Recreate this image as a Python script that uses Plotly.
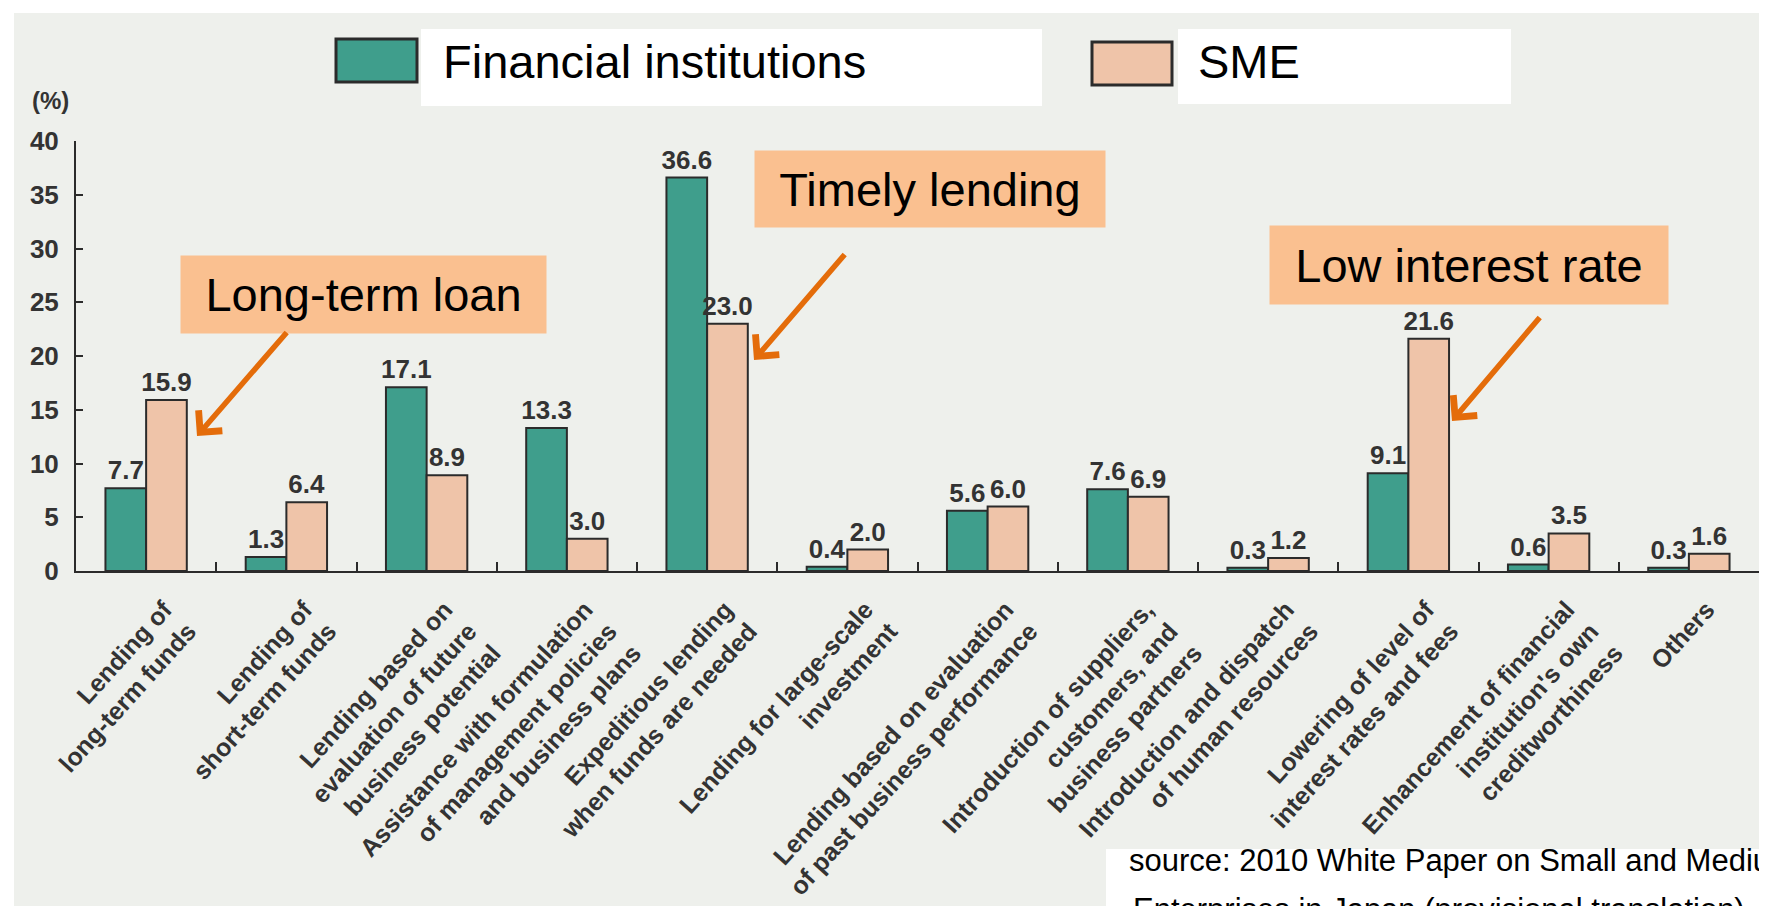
import plotly.graph_objects as go

# values (2010 White Paper on SMEs in Japan)
categories = [
    "Lending of<br>long-term funds",
    "Lending of<br>short-term funds",
    "Lending based on<br>evaluation of future<br>business potential",
    "Assistance with formulation<br>of management policies<br>and business plans",
    "Expeditious lending<br>when funds are needed",
    "Lending for large-scale<br>investment",
    "Lending based on evaluation<br>of past business performance",
    "Introduction of suppliers,<br>customers, and<br>business partners",
    "Introduction and dispatch<br>of human resources",
    "Lowering of level of<br>interest rates and fees",
    "Enhancement of financial<br>institution's own<br>creditworthiness",
    "Others",
]
fin_inst = [7.7, 1.3, 17.1, 13.3, 36.6, 0.4, 5.6, 7.6, 0.3, 9.1, 0.6, 0.3]
sme = [15.9, 6.4, 8.9, 3.0, 23.0, 2.0, 6.0, 6.9, 1.2, 21.6, 3.5, 1.6]
series_names = ["Financial institutions", "SME"]
y_ticks = [0, 5, 10, 15, 20, 25, 30, 35, 40]
callout_texts = ["Long-term loan", "Timely lending", "Low interest rate"]
source_lines = [
    "source: 2010 White Paper on Small and Medium",
    "Enterprises in Japan (provisional translation)",
]

TEAL = "#3f9e8c"
PINK = "#efc4a9"
ORANGE_BOX = "#fac090"
ORANGE_LINE = "#e46c0a"
BG = "#eef0ec"
INK = "#333333"
EDGE = "#2b2b2b"
FONT = "Liberation Sans, Arial, sans-serif"

# page size and plot area (pixels)
W, H = 1767, 906
L, R, T, B = 68, 1751, 133, 563


def px(x):
    return (x - L) / (R - L)


def py(y):
    return (B - y) / (B - T)


fig = go.Figure()
for name, vals, color in zip(series_names, [fin_inst, sme], [TEAL, PINK]):
    fig.add_trace(go.Bar(
        x=categories, y=vals, name=name,
        marker=dict(color=color, line=dict(color=EDGE, width=2)),
        text=[f"{v:.1f}" for v in vals],
        textposition="outside", textangle=0, constraintext="none",
        textfont=dict(size=26, color=INK, family=FONT, weight="bold"),
        cliponaxis=False,
    ))

shapes = [
    # scanned page background with thin white border top/left
    dict(type="rect", xref="paper", yref="paper", x0=px(6), x1=px(W + 10),
         y0=py(5), y1=py(H + 10), fillcolor=BG, line_width=0, layer="below"),
    # legend: swatches + white text boxes
    dict(type="rect", xref="paper", yref="paper", x0=px(328), x1=px(409),
         y0=py(31), y1=py(74), fillcolor=TEAL, line=dict(color=EDGE, width=3)),
    dict(type="rect", xref="paper", yref="paper", x0=px(413), x1=px(1034),
         y0=py(21), y1=py(98), fillcolor="white", line_width=0),
    dict(type="rect", xref="paper", yref="paper", x0=px(1084), x1=px(1164),
         y0=py(34), y1=py(77), fillcolor=PINK, line=dict(color=EDGE, width=3)),
    dict(type="rect", xref="paper", yref="paper", x0=px(1170), x1=px(1503),
         y0=py(21), y1=py(96), fillcolor="white", line_width=0),
    # source box
    dict(type="rect", xref="paper", yref="paper", x0=px(1098), x1=px(W + 10),
         y0=py(841), y1=py(H + 10), fillcolor="white", line_width=0),
]

annotations = [
    dict(text=series_names[0], x=px(433), y=py(54), xanchor="left", yanchor="middle",
         font=dict(size=47, color="black")),
    dict(text=series_names[1], x=px(1188), y=py(54), xanchor="left", yanchor="middle",
         font=dict(size=47, color="black")),
    dict(text="(%)", x=px(42), y=py(92), xanchor="center", yanchor="middle",
         font=dict(size=24, color=INK, weight="bold")),
    dict(text=source_lines[0], x=px(1119), y=py(853), xanchor="left", yanchor="middle",
         font=dict(size=31, color="black")),
    dict(text=source_lines[1], x=px(1123), y=py(901), xanchor="left", yanchor="middle",
         font=dict(size=31, color="black")),
]

# orange callout boxes: (left, top, width, height) and arrow (head, tail) in pixels
boxes = [(172, 247, 365, 77), (746, 142, 350, 76), (1261, 217, 398, 78)]
arrows = [((189, 428), (280, 323)), ((746, 352), (838, 245)), ((1444, 413), (1533, 308))]
for txt, (bx, by, bw, bh), (head, tail) in zip(callout_texts, boxes, arrows):
    annotations.append(dict(
        text=txt, x=px(bx), y=py(by), xanchor="left", yanchor="top",
        width=bw, height=bh, align="center", valign="middle",
        bgcolor=ORANGE_BOX, borderpad=0, font=dict(size=47, color="black"),
    ))
    annotations.append(dict(
        text="", x=px(head[0]), y=py(head[1]), showarrow=True,
        ax=tail[0] - head[0], ay=tail[1] - head[1],
        arrowhead=4, arrowsize=1.1, arrowwidth=5.5, arrowcolor=ORANGE_LINE, standoff=0,
    ))
for a in annotations:
    a.setdefault("xref", "paper")
    a.setdefault("yref", "paper")
    a.setdefault("showarrow", False)

fig.update_layout(
    width=W, height=H,
    margin=dict(l=L, r=W - R, t=T, b=H - B, autoexpand=False),
    paper_bgcolor="white", plot_bgcolor="rgba(0,0,0,0)",
    barmode="group", bargap=0.42, bargroupgap=0,
    showlegend=False,
    font=dict(family=FONT, color=INK),
    shapes=shapes, annotations=annotations,
)
fig.update_xaxes(
    type="category", range=[-0.5, 11.5],
    showline=True, linecolor=EDGE, linewidth=2,
    ticks="inside", tickson="boundaries", ticklen=9, tickwidth=2, tickcolor=EDGE,
    tickangle=-48, tickfont=dict(size=25, color=INK, weight="bold"),
    ticklabelshift=18, ticklabelstandoff=12,
    showgrid=False, automargin=False,
)
fig.update_yaxes(
    range=[0, 40], tickvals=y_ticks,
    showline=True, linecolor=EDGE, linewidth=2,
    ticks="inside", ticklen=7, tickwidth=2, tickcolor=EDGE,
    ticklabelstandoff=10,
    tickfont=dict(size=26, color=INK, weight="bold"),
    showgrid=False, zeroline=False, automargin=False,
)

fig.write_html("out.html")
